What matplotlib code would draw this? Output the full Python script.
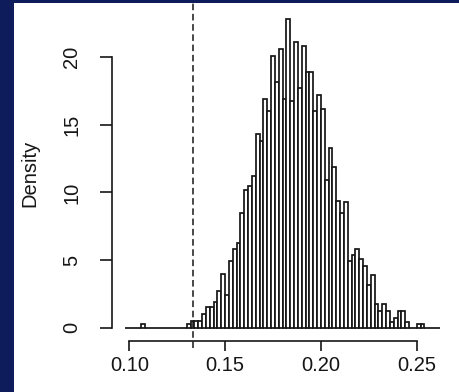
import numpy as np
import matplotlib
matplotlib.use('Agg')
import matplotlib.pyplot as plt
from matplotlib.patches import Rectangle

plt.rcParams['font.family'] = ['Liberation Sans', 'DejaVu Sans']

# histogram: bins of 0.002 from 0.098 to 0.262
bin_start = 0.098
bin_width = 0.002
density = [
    0, 0, 0, 0, 0.3, 0, 0, 0, 0, 0,
    0, 0, 0, 0, 0, 0, 0.3, 0.5, 0.5, 0.5,
    1.0, 1.5, 1.5, 1.9, 2.7, 3.95, 2.4, 4.9, 5.85, 6.3,
    8.5, 10.2, 10.5, 11.2, 14.3, 13.8, 16.9, 16.0, 20.1, 18.2,
    20.6, 16.9, 22.8, 16.8, 21.1, 17.7, 20.8, 18.9, 18.9, 16.0,
    17.2, 16.2, 10.9, 13.3, 11.9, 9.4, 8.5, 9.3, 4.9, 5.4,
    5.85, 5.1, 4.6, 3.15, 3.9, 1.75, 1.2, 1.75, 1.2, 0.45,
    0.75, 1.2, 1.2, 0.45, 0, 0, 0.3, 0.3, 0, 0,
    0, 0,
]
observed = 0.133
x_ticks = [0.10, 0.15, 0.20, 0.25]
x_labels = ['0.10', '0.15', '0.20', '0.25']
y_ticks = [0, 5, 10, 15, 20]

NAVY = '#0f1c5c'
INK = '#161616'

W, H = 460, 392
fig = plt.figure(figsize=(W / 100, H / 100), dpi=100)
fig.patch.set_facecolor(NAVY)
# white page, navy shows only on the left and top
fig.add_artist(Rectangle((14 / W, 0), 1 - 14 / W, 1 - 3 / H,
                         transform=fig.transFigure, facecolor='white',
                         edgecolor='none', zorder=0))

# plot region in pixels (R style)
left, right, top, bottom = 112.3, 445, 7, 341
ax = fig.add_axes([left / W, 1 - bottom / H, (right - left) / W, (bottom - top) / H])
ax.patch.set_alpha(0)

xs = 1916.0   # px per unit
ys = 13.52    # px per unit
ax.set_xlim(0.10 + (left - 129.3) / xs, 0.10 + (right - 129.3) / xs)
ax.set_ylim(-(bottom - 327.7) / ys, (327.7 - top) / ys)

lefts = bin_start + bin_width * np.arange(len(density))
ax.bar(lefts, density, width=bin_width, align='edge', facecolor='white',
       edgecolor=INK, linewidth=1.25, zorder=2)

ax.axvline(observed, ymin=-(348 - bottom) / (bottom - top),
           ymax=(bottom - 3) / (bottom - top), color=INK, lw=1.1,
           ls=(0, (4.3, 2.4)), clip_on=False, zorder=3)

for s in ['top', 'right']:
    ax.spines[s].set_visible(False)
ax.spines['left'].set_bounds(y_ticks[0], y_ticks[-1])
ax.spines['bottom'].set_bounds(x_ticks[0], x_ticks[-1])
for s in ['left', 'bottom']:
    ax.spines[s].set_color(INK)
    ax.spines[s].set_linewidth(1.2)

ax.set_xticks(x_ticks)
ax.set_xticklabels(x_labels)
ax.set_yticks(y_ticks)
ax.set_yticklabels([str(v) for v in y_ticks], rotation=90, va='center')
ax.tick_params(axis='x', length=7.3, width=1.2, color=INK, pad=3.5,
               labelsize=14.5, labelcolor=INK)
ax.tick_params(axis='y', length=8.7, width=1.2, color=INK, pad=13.5,
               labelsize=14.5, labelcolor=INK)

ax.set_ylabel('Density', fontsize=14.5, color=INK)
ax.yaxis.set_label_coords((39 - left) / (right - left), (bottom - 173) / (bottom - top))

fig.savefig('out.png', dpi=100, facecolor=fig.get_facecolor())
